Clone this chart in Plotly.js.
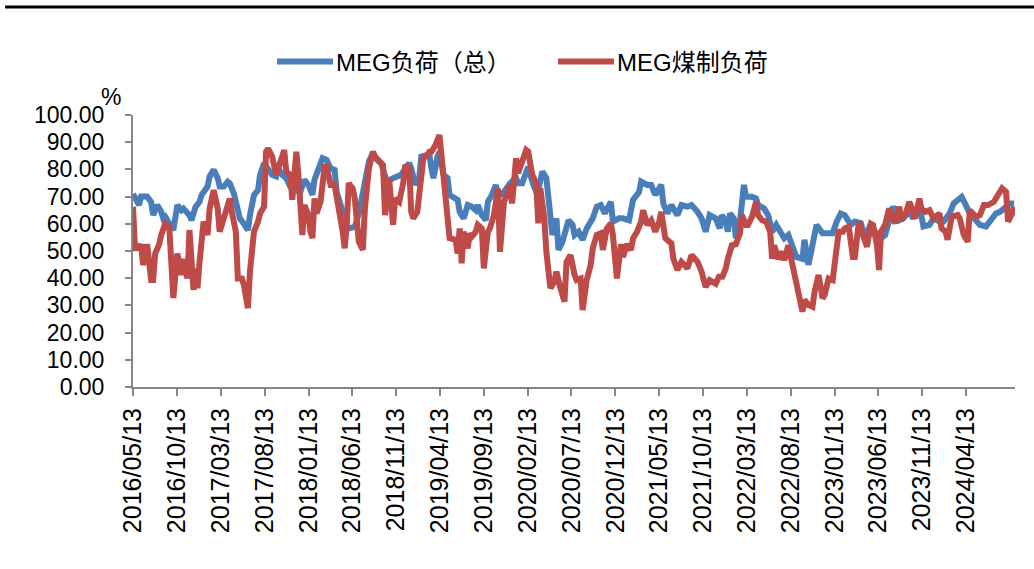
<!DOCTYPE html>
<html>
<head>
<meta charset="utf-8">
<script src="https://cdn.plot.ly/plotly-3.0.1.min.js"></script>
<style>
html,body{margin:0;padding:0;background:#fff;}
#chart{width:1034px;height:569px;}
</style>
</head>
<body>
<div id="chart"></div>
<script>
// Weekly data starting 2016/05/13; week index -> value
const startDate = '2016-05-13';
const seriesNames = ['MEG负荷（总）', 'MEG煤制负荷'];

const totalWeeks = [0,3,4,7,9,10,12,14,15,16,18,20,22,24,25,28,29,31,33,34,37,38,40,42,43,45,47,48,50,52,53,55,57,58,60,62,63,65,67,69,71,72,74,76,78,80,83,85,87,89,90,92,94,96,98,100,101,104,105,107,109,110,112,114,115,117,119,121,123,124,126,129,131,133,134,137,138,140,142,143,146,147,148,149,151,152,154,156,157,160,161,162,164,166,168,170,171,173,175,176,178,180,181,184,186,187,190,191,193,195,196,198,200,201,203,205,206,208,210,211,213,215,216,218,219,221,223,225,228,230,232,234,237,238,241,243,246,248,251,252,255,257,259,262,263,265,267,270,272,275,277,280,282,284,286,289,291,292,294,295,296,298,299,301,303,304,307,309,310,313,315,317,319,322,323,325,327,329,332,333,335,337,339,342,344,347,349,351,353,356,358,361,363,366,368,371,373,375,377,380,382,385,387,390,392,395,397,400,402,405,407,410,411,413,415,418,420,423,425,428,430,433,435,437];
const totalLoad = [71,66.9,70,70,68,63.2,66.9,64.4,62,62.6,60,57.7,66.9,65,65.6,63.2,61.3,66.2,68.1,70.6,73.7,77.4,79.8,76.8,73.7,73.7,75.5,74.9,71.2,64.4,62,60,57.7,63.2,70.6,72.4,78,82.3,80.4,78,77.4,80.4,78,76.8,73.7,72.4,71.7,76.2,74.3,70.6,76.2,80.4,84.1,83.5,80.4,79.8,71.7,64.4,59.6,58.3,58.9,58.9,63.8,70.6,74.3,82.9,86,83.5,82.3,80.4,75.5,76.8,77.4,78,79.2,82.3,80.4,74.3,77.4,84.7,85.3,85.3,80.4,76.8,84.7,86.5,78,76.8,70.6,68.8,68.8,64.4,62,66.9,66.3,65,66.9,63.2,61.3,68.1,70.6,74.3,69.9,71.7,74.3,74.9,76.8,74.9,74.9,79.2,81,75.5,71.7,72.4,79.2,76.8,68.1,55.9,62,50.4,53.4,58.3,61.3,59.6,55.9,57.1,54.1,58.3,62,66.3,66.9,63.8,68.1,60.8,62,62,61.3,68.8,71.7,75.5,74.3,74.3,70.6,74.3,67.5,63.8,66.9,63.2,66.9,66.3,66.9,64.4,62,57.1,63.2,62,58.3,63.2,60.8,57.1,63.8,62,54.7,60.8,74.3,69.9,69.9,69.3,66.9,65.6,63.2,57.1,59.6,55.9,54.7,55.9,51.6,47.8,47.1,54.1,44.9,53.4,59.6,56.5,56.5,56.5,60.8,63.8,63.2,59.6,60.8,60.2,54.7,60.2,57.1,54.7,55.9,60.8,66.3,61.3,62,64.4,62,66.9,59,59.6,62,60.8,60.8,63.8,67.5,69.3,69.9,66.9,63.8,61.3,59.6,59,60.8,63.8,64.4,66.3,67.5,67.5];

const coalWeeks = [0,1,3,4,5,7,9,10,11,13,14,16,18,19,20,22,23,24,25,27,28,30,31,32,33,35,37,38,40,42,43,46,48,49,51,52,54,55,57,58,60,62,63,65,66,67,69,71,72,75,76,78,79,81,82,84,85,87,88,89,90,91,93,95,96,98,100,101,102,104,105,106,107,109,110,112,114,115,117,119,120,122,124,125,127,129,130,132,134,135,137,138,139,141,142,144,146,147,148,150,152,153,154,156,157,160,161,162,163,164,166,167,168,170,171,173,174,176,177,179,181,182,184,186,187,188,190,191,193,195,196,198,200,201,202,204,205,207,209,210,212,214,215,217,219,220,222,223,225,227,228,230,232,233,235,237,238,240,242,243,245,247,248,250,252,253,255,257,259,261,262,264,267,268,270,272,275,277,280,282,284,286,289,291,292,294,295,297,299,300,301,302,304,305,307,309,310,312,314,316,317,318,320,322,323,325,327,328,330,332,333,335,337,338,340,342,343,345,347,348,350,352,353,355,357,358,360,362,364,366,367,369,370,371,373,375,376,378,380,381,383,385,386,388,390,391,393,395,397,400,401,403,404,406,409,410,412,414,415,418,420,422,424,427,429,431,433,434,436,437];
const coalLoad = [66.3,51,51,52.5,44.9,52.5,39.3,39.3,49.1,52.5,55.9,60,58.8,47.1,32.7,49.1,44.9,41.2,47.1,39.9,57.7,35.7,43.6,36.3,46,60.8,55.9,65.6,72.4,65.6,57.1,63.8,69.3,64.4,57.1,39.9,39.9,37.5,29,42.4,57.1,60.8,63.8,66.3,86.5,87.7,84.7,78,80,87.1,79.2,78,68.8,86.5,78,55.9,66.9,63.2,57.1,54.7,69.3,63.8,68.1,81,81,74.3,74.3,70.6,64.4,57.1,51,59.6,74.9,73,69.3,53.4,50.4,65.6,80.4,86.5,84.7,82.9,81.6,63.2,76.8,59.6,69.3,68.1,74.9,81.6,80.4,64.4,62,64.4,69.9,84.1,85.3,86.5,86.5,88.9,92.6,84.1,76.8,62,54.7,54.1,49.1,58.3,45.5,57.1,51,56.5,55.3,57.1,59.6,58.3,43.6,57.1,58.3,63.2,73,49.7,68.1,71.7,74.3,67.5,84.1,78.6,82.9,87.1,86.5,78,74.9,60.2,73,62,49.7,36.3,38.7,42.4,36.3,31.4,46,48.5,41.2,39.3,39.9,28.3,39.3,44.9,51,55.9,56.5,50.4,58.3,60.2,55.9,39.9,52.5,47.8,52.5,50.4,54.7,57.1,60.8,65,59.6,61.3,57.1,60.8,64.4,54.7,52.8,47.1,43,46,43.6,48.5,46,42.4,36.8,39.3,38,41.2,39.9,43.6,47.1,52.1,52.5,54.7,56.5,63.2,59.6,59.6,62.6,68.1,63.2,61.3,60.8,57.1,47.1,52.1,47.1,49.7,46.6,52.1,44.9,42.4,36.3,27.7,32,30.1,29.5,34.9,41.2,32.6,33.8,39.9,39.3,46,57.1,57.1,58.3,58.9,47.8,47.8,60.8,55.9,51.6,60,59.6,52.1,43,57.1,59.6,65.6,63.2,60.2,66.3,61.3,63.2,68.1,66.3,62,69.3,65.6,64.4,65,62,63.8,58.3,57.1,54.1,62.6,63.2,62,55.9,53.4,65,62.6,63.2,66.9,66.9,68.1,70.6,73,71.7,60.8,63.8,66.3];

const tickLabels = ['2016/05/13','2016/10/13','2017/03/13','2017/08/13','2018/01/13','2018/06/13','2018/11/13','2019/04/13','2019/09/13','2020/02/13','2020/07/13','2020/12/13','2021/05/13','2021/10/13','2022/03/13','2022/08/13','2023/01/13','2023/06/13','2023/11/13','2024/04/13'];
const xEnd = '2024-09-30';

const DAY = 86400000;
const t0 = Date.parse(startDate + 'T00:00:00Z');
function weekToDate(w){ return new Date(t0 + w*7*DAY).toISOString().slice(0,10); }

const baseFont = 'Liberation Sans, Arial, sans-serif';

const traces = [
  {x: totalWeeks.map(weekToDate), y: totalLoad, name: seriesNames[0], type:'scatter', mode:'lines',
   line:{color:'#4A7EBB', width:6}},
  {x: coalWeeks.map(weekToDate), y: coalLoad, name: seriesNames[1], type:'scatter', mode:'lines',
   line:{color:'#BE4B48', width:6}}
];

const layout = {
  width:1034, height:569,
  margin:{l:133, r:19, t:115, b:182},
  paper_bgcolor:'#fff', plot_bgcolor:'#fff',
  showlegend:true,
  legend:{orientation:'h', x:0.1848, xanchor:'left', y:1.195, yanchor:'middle',
    font:{family:'Liberation Sans, Noto Sans CJK SC, sans-serif', size:24, color:'#000'},
    bgcolor:'rgba(0,0,0,0)', itemwidth:30, entrywidth:236, entrywidthmode:'pixels'},
  xaxis:{type:'date', range:[startDate, xEnd],
    tickvals: tickLabels.map(s=>s.replace(/\//g,'-')), ticktext: tickLabels,
    tickangle:-90, tickfont:{family:baseFont, size:25, color:'#000'}, ticklabelstandoff:2,
    ticks:'outside', ticklen:7, tickwidth:2, tickcolor:'#868686',
    showline:true, linecolor:'#868686', linewidth:2, showgrid:false, zeroline:false, fixedrange:true},
  yaxis:{range:[0,100], dtick:10, tick0:0, tickformat:'.2f', tickfont:{family:baseFont, size:23, color:'#000'},
    ticklabelstandoff:16,
    ticks:'outside', ticklen:6, tickwidth:2, tickcolor:'#868686',
    showline:true, linecolor:'#868686', linewidth:2, showgrid:false, zeroline:false, fixedrange:true},
  annotations:[{text:'%', xref:'paper', yref:'paper', x:-0.0249, y:1.066, xanchor:'center', yanchor:'middle',
    showarrow:false, font:{family:baseFont, size:23, color:'#000'}}],
  shapes:[{type:'line', xref:'paper', yref:'paper', x0:-0.145, x1:1.03, y0:1.397, y1:1.397,
    line:{color:'#000', width:3}}]
};

Plotly.newPlot('chart', traces, layout, {displayModeBar:false, staticPlot:true}).then(function(gd){
  // lengthen the legend line samples to match the reference (56px, ending just before the text)
  gd.querySelectorAll('.legend [clip-path]').forEach(function(el){ el.removeAttribute('clip-path'); });
  gd.querySelectorAll('.legend .legendlines path').forEach(function(p){
    p.setAttribute('d', 'M-19,0h56');
  });
});
</script>
</body>
</html>
